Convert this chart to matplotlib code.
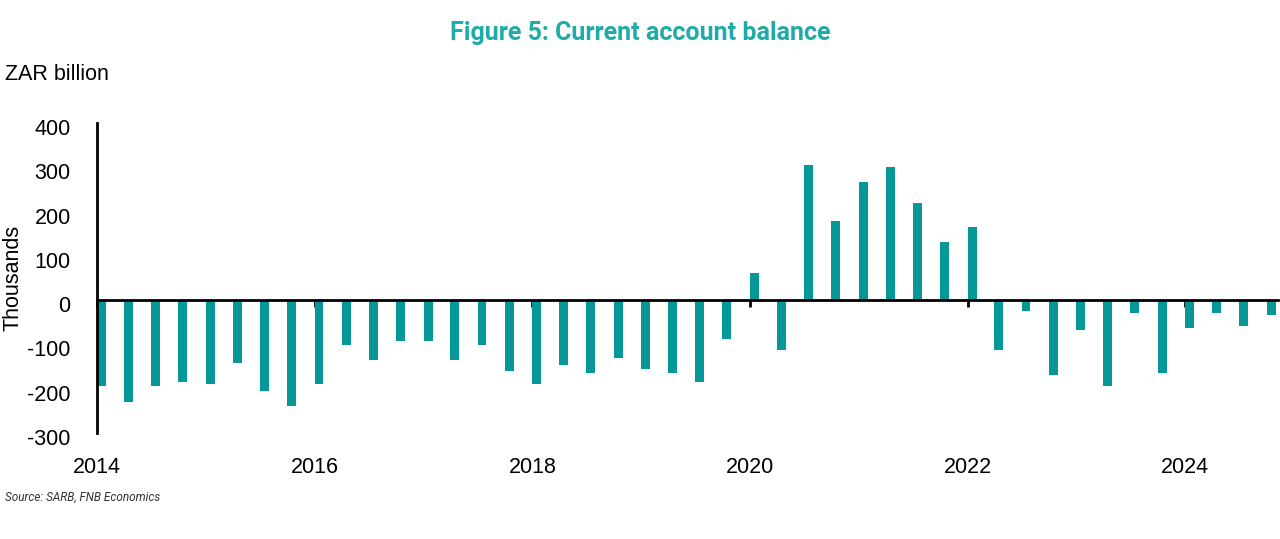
import pandas as pd
import matplotlib.pyplot as plt
import matplotlib.dates as mdates
import matplotlib.transforms as mtransforms

# quarterly current account balance, ZAR billion
quarters = pd.date_range("2014-01-01", periods=44, freq="QS")
balance = [
    -194, -230, -194, -185,   # 2014
    -190, -142, -205, -239,   # 2015
    -190, -102, -135, -93,    # 2016
    -93, -135, -102, -160,    # 2017
    -190, -147, -165, -131,   # 2018
    -156, -165, -185, -88,    # 2019
    62, -113, 305, 178,       # 2020
    266, 300, 219, 131,       # 2021
    165, -113, -25, -169,     # 2022
    -68, -194, -29, -165,     # 2023
    -63, -29, -59, -34,       # 2024
]
year_ticks = pd.to_datetime(["2014-01-01", "2016-01-01", "2018-01-01",
                             "2020-01-01", "2022-01-01", "2024-01-01"])
y_ticks = [-300, -200, -100, 0, 100, 200, 300, 400]

bar_color = "#069898"
title_color = "#1fabaa"

plt.rcParams["font.family"] = ["Liberation Sans", "DejaVu Sans"]
plt.rcParams["axes.unicode_minus"] = False

fig = plt.figure(figsize=(12.8, 5.39), dpi=100)
ax = fig.add_axes([0.0758, 0.1967, 0.9227, 0.5751])

ax.bar(quarters, balance, width=30, align="edge", color=bar_color, zorder=2)

ax.set_xlim(pd.Timestamp("2014-01-01"), pd.Timestamp("2024-11-08"))
ax.set_ylim(-300, 400)

for s in ["top", "right"]:
    ax.spines[s].set_visible(False)
ax.spines["left"].set_linewidth(2)
ax.spines["bottom"].set_position(("data", 0))
ax.spines["bottom"].set_linewidth(2)
ax.spines["bottom"].set_zorder(3)

ax.set_xticks(year_ticks)
ax.xaxis.set_major_formatter(mdates.DateFormatter("%Y"))
ax.tick_params(axis="x", direction="out", length=5, width=2, pad=108,
               labelsize=15.5)
ax.set_yticks(y_ticks)
ax.tick_params(axis="y", length=0, pad=19, labelsize=15.5)

# y labels sit a few pixels lower than the gridline values in the original
shift = mtransforms.ScaledTranslation(0, -4 / 100, fig.dpi_scale_trans)
for lab in ax.get_yticklabels():
    lab.set_transform(lab.get_transform() + shift)

ax.set_ylabel("Thousands", fontsize=15.5)
ax.yaxis.set_label_coords(-0.062, 0.5)

fig.text(0.5, 0.938, "Figure 5: Current account balance", ha="center",
         va="center", fontsize=18, fontweight="bold", color=title_color,
         family=["Roboto", "DejaVu Sans"])
fig.text(0.004, 0.862, "ZAR billion", ha="left", va="center", fontsize=15.5)
fig.text(0.004, 0.077, "Source: SARB, FNB Economics", ha="left", va="center",
         fontsize=8.5, style="italic", color="#333333",
         family=["Roboto", "DejaVu Sans"])

fig.savefig("out.png", dpi=100)
